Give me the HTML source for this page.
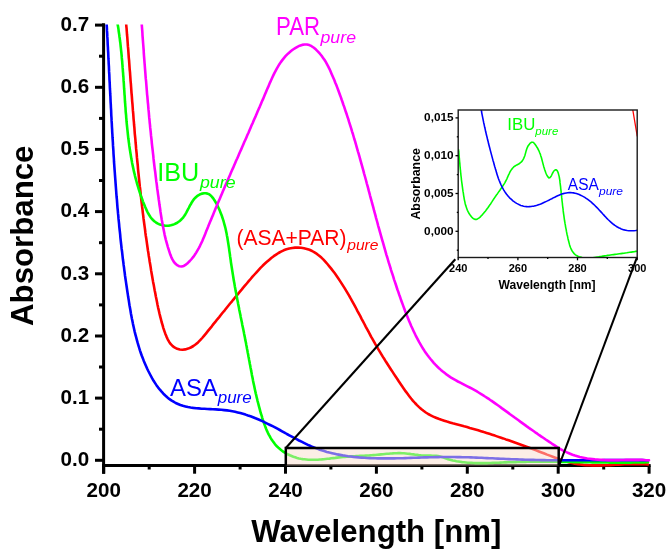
<!DOCTYPE html>
<html><head><meta charset="utf-8"><title>UV spectra</title>
<style>html,body{margin:0;padding:0;background:#fff;width:672px;height:556px;overflow:hidden}svg{display:block;will-change:transform}</style>
</head><body>
<svg width="672" height="556" viewBox="0 0 672 556">
<defs><clipPath id="pc"><rect x="104" y="24.5" width="548" height="445"/></clipPath>
<clipPath id="ic"><rect x="458.2" y="110" width="179" height="147.5"/></clipPath></defs>
<rect width="672" height="556" fill="#fff"/>
<line x1="103.6" y1="23.3" x2="103.6" y2="473.7" stroke="#000" stroke-width="3"/>
<line x1="102.1" y1="465.5" x2="650.6" y2="465.5" stroke="#000" stroke-width="3"/>
<line x1="95" y1="460.3" x2="103.6" y2="460.3" stroke="#000" stroke-width="3"/>
<line x1="95" y1="398.1" x2="103.6" y2="398.1" stroke="#000" stroke-width="3"/>
<line x1="95" y1="336.0" x2="103.6" y2="336.0" stroke="#000" stroke-width="3"/>
<line x1="95" y1="273.8" x2="103.6" y2="273.8" stroke="#000" stroke-width="3"/>
<line x1="95" y1="211.6" x2="103.6" y2="211.6" stroke="#000" stroke-width="3"/>
<line x1="95" y1="149.4" x2="103.6" y2="149.4" stroke="#000" stroke-width="3"/>
<line x1="95" y1="87.3" x2="103.6" y2="87.3" stroke="#000" stroke-width="3"/>
<line x1="95" y1="25.1" x2="103.6" y2="25.1" stroke="#000" stroke-width="3"/>
<line x1="99" y1="429.2" x2="103.6" y2="429.2" stroke="#000" stroke-width="3"/>
<line x1="99" y1="367.0" x2="103.6" y2="367.0" stroke="#000" stroke-width="3"/>
<line x1="99" y1="304.9" x2="103.6" y2="304.9" stroke="#000" stroke-width="3"/>
<line x1="99" y1="242.7" x2="103.6" y2="242.7" stroke="#000" stroke-width="3"/>
<line x1="99" y1="180.5" x2="103.6" y2="180.5" stroke="#000" stroke-width="3"/>
<line x1="99" y1="118.4" x2="103.6" y2="118.4" stroke="#000" stroke-width="3"/>
<line x1="99" y1="56.2" x2="103.6" y2="56.2" stroke="#000" stroke-width="3"/>
<line x1="103.7" y1="465.5" x2="103.7" y2="473.7" stroke="#000" stroke-width="3"/>
<line x1="194.6" y1="465.5" x2="194.6" y2="473.7" stroke="#000" stroke-width="3"/>
<line x1="285.5" y1="465.5" x2="285.5" y2="473.7" stroke="#000" stroke-width="3"/>
<line x1="376.4" y1="465.5" x2="376.4" y2="473.7" stroke="#000" stroke-width="3"/>
<line x1="467.3" y1="465.5" x2="467.3" y2="473.7" stroke="#000" stroke-width="3"/>
<line x1="558.2" y1="465.5" x2="558.2" y2="473.7" stroke="#000" stroke-width="3"/>
<line x1="649.1" y1="465.5" x2="649.1" y2="473.7" stroke="#000" stroke-width="3"/>
<line x1="149.2" y1="465.5" x2="149.2" y2="469.5" stroke="#000" stroke-width="3"/>
<line x1="240.1" y1="465.5" x2="240.1" y2="469.5" stroke="#000" stroke-width="3"/>
<line x1="330.9" y1="465.5" x2="330.9" y2="469.5" stroke="#000" stroke-width="3"/>
<line x1="421.9" y1="465.5" x2="421.9" y2="469.5" stroke="#000" stroke-width="3"/>
<line x1="512.8" y1="465.5" x2="512.8" y2="469.5" stroke="#000" stroke-width="3"/>
<line x1="603.7" y1="465.5" x2="603.7" y2="469.5" stroke="#000" stroke-width="3"/>
<g clip-path="url(#pc)">
<path d="M125.8,20.0 L126.1,22.9 L126.3,25.8 L126.6,28.7 L126.8,31.6 L127.0,34.5 L127.3,37.4 L127.5,40.3 L127.7,43.2 L127.9,46.2 L128.2,49.1 L128.4,52.0 L128.6,54.9 L128.8,57.8 L129.1,60.7 L129.3,63.6 L129.5,66.6 L129.7,69.5 L130.0,72.4 L130.2,75.3 L130.4,78.2 L130.6,81.1 L130.9,84.1 L131.1,87.0 L131.3,89.9 L131.5,92.8 L131.8,95.8 L132.0,98.7 L132.2,101.6 L132.5,104.5 L132.7,107.4 L132.9,110.4 L133.2,113.3 L133.4,116.2 L133.6,119.1 L133.9,122.1 L134.1,125.0 L134.4,127.9 L134.6,130.8 L134.8,133.8 L135.1,136.7 L135.4,139.6 L135.6,142.5 L135.9,145.5 L136.1,148.4 L136.4,151.3 L136.7,154.2 L136.9,157.2 L137.2,160.1 L137.5,163.0 L137.8,165.9 L138.0,168.8 L138.3,171.8 L138.6,174.7 L138.9,177.6 L139.2,180.5 L139.5,183.4 L139.8,186.4 L140.2,189.3 L140.5,192.2 L140.8,195.1 L141.1,198.0 L141.4,200.9 L141.8,203.8 L142.1,206.7 L142.5,209.7 L142.8,212.6 L143.2,215.5 L143.5,218.4 L143.9,221.3 L144.3,224.2 L144.7,227.1 L145.1,230.0 L145.4,232.9 L145.8,235.8 L146.3,238.7 L146.7,241.6 L147.1,244.5 L147.5,247.3 L147.9,250.2 L148.4,253.1 L148.8,256.0 L149.3,258.9 L149.7,261.8 L150.2,264.6 L150.7,267.5 L151.1,270.4 L151.6,273.3 L152.1,276.1 L152.6,279.0 L153.1,281.9 L153.7,284.7 L154.2,287.6 L154.7,290.5 L155.3,293.3 L155.8,296.2 L156.4,299.0 L157.0,301.9 L157.5,304.7 L158.1,307.6 L158.8,310.4 L159.4,313.3 L160.1,316.2 L160.9,319.1 L161.6,322.0 L162.5,324.9 L163.3,327.8 L164.3,330.8 L165.3,333.7 L166.5,336.6 L167.7,339.3 L169.2,341.9 L170.8,344.2 L172.7,346.1 L174.9,347.7 L177.2,348.8 L179.8,349.5 L182.5,349.7 L185.3,349.4 L188.1,348.6 L190.8,347.5 L193.4,346.0 L195.8,344.3 L198.0,342.4 L200.2,340.2 L202.2,338.0 L204.2,335.6 L206.1,333.3 L208.0,330.9 L209.9,328.6 L211.8,326.3 L213.6,323.9 L215.5,321.6 L217.3,319.3 L219.2,317.1 L221.0,314.8 L222.8,312.5 L224.7,310.3 L226.5,308.0 L228.3,305.8 L230.1,303.5 L232.0,301.3 L233.8,299.1 L235.6,296.8 L237.5,294.6 L239.3,292.4 L241.2,290.2 L243.0,287.9 L244.9,285.7 L246.8,283.5 L248.7,281.2 L250.6,279.0 L252.5,276.7 L254.5,274.5 L256.5,272.3 L258.5,270.1 L260.5,267.9 L262.6,265.8 L264.7,263.8 L266.9,261.8 L269.1,259.9 L271.3,258.0 L273.7,256.2 L276.1,254.6 L278.5,253.0 L281.0,251.6 L283.7,250.3 L286.4,249.3 L289.3,248.5 L292.2,248.0 L295.1,247.6 L298.1,247.6 L301.1,247.8 L304.0,248.2 L306.8,248.9 L309.5,249.8 L312.1,251.0 L314.5,252.4 L316.9,253.9 L319.2,255.7 L321.4,257.6 L323.5,259.6 L325.5,261.8 L327.4,264.0 L329.3,266.3 L331.2,268.6 L333.0,271.0 L334.8,273.3 L336.5,275.7 L338.2,278.2 L339.8,280.6 L341.4,283.1 L343.0,285.6 L344.6,288.1 L346.1,290.6 L347.6,293.1 L349.1,295.6 L350.5,298.2 L352.0,300.8 L353.4,303.3 L354.8,305.9 L356.2,308.5 L357.5,311.1 L358.9,313.7 L360.3,316.2 L361.6,318.8 L363.0,321.4 L364.4,324.0 L365.7,326.6 L367.1,329.2 L368.5,331.7 L369.9,334.3 L371.2,336.9 L372.7,339.4 L374.1,341.9 L375.5,344.4 L377.0,346.9 L378.4,349.4 L379.9,351.9 L381.4,354.4 L382.9,356.9 L384.5,359.3 L386.0,361.8 L387.6,364.3 L389.2,366.7 L390.8,369.2 L392.4,371.6 L394.0,374.1 L395.6,376.5 L397.3,379.0 L398.9,381.5 L400.6,384.0 L402.3,386.4 L404.0,388.9 L405.7,391.4 L407.5,393.8 L409.3,396.2 L411.1,398.5 L413.0,400.8 L415.0,403.0 L417.0,405.1 L419.1,407.1 L421.2,409.0 L423.5,410.8 L425.8,412.5 L428.2,414.0 L430.7,415.3 L433.3,416.6 L435.9,417.7 L438.6,418.8 L441.4,419.8 L444.2,420.7 L447.0,421.6 L449.8,422.4 L452.7,423.2 L455.5,423.9 L458.4,424.7 L461.3,425.5 L464.1,426.3 L467.0,427.0 L469.8,427.9 L472.6,428.7 L475.4,429.5 L478.2,430.3 L481.0,431.2 L483.8,432.1 L486.6,432.9 L489.4,433.8 L492.1,434.7 L494.9,435.6 L497.7,436.6 L500.4,437.5 L503.2,438.4 L505.9,439.4 L508.7,440.3 L511.4,441.3 L514.1,442.3 L516.9,443.3 L519.6,444.3 L522.4,445.3 L525.1,446.3 L527.9,447.3 L530.6,448.3 L533.4,449.4 L536.1,450.4 L538.9,451.5 L541.6,452.5 L544.4,453.5 L547.1,454.6 L549.9,455.6 L552.7,456.7 L555.4,457.7 L558.2,458.8 L560.9,459.8 L563.7,460.7 L566.4,461.6 L569.2,462.4 L572.0,463.1 L574.8,463.7 L577.7,464.1 L580.6,464.5 L583.4,464.9 L586.3,465.1 L589.2,465.3 L592.1,465.4 L595.1,465.4 L598.0,465.4 L601.0,465.4 L603.9,465.3 L606.9,465.2 L609.8,465.1 L612.8,464.9 L615.7,464.8 L618.7,464.6 L621.7,464.5 L624.6,464.3 L627.6,464.2 L630.5,464.1 L633.5,464.1 L636.4,464.0 L639.3,464.1 L642.2,464.1 L645.1,464.3 L648.0,464.5" fill="none" stroke="#ff0000" stroke-width="2.60" stroke-linejoin="round" stroke-linecap="round" />
<path d="M116.9,20.0 L117.2,21.9 L117.5,23.8 L117.9,25.7 L118.2,27.5 L118.5,29.4 L118.7,31.3 L119.0,33.2 L119.3,35.1 L119.5,37.0 L119.8,38.9 L120.0,40.8 L120.3,42.7 L120.5,44.6 L120.7,46.5 L120.9,48.4 L121.1,50.3 L121.3,52.2 L121.5,54.1 L121.7,56.0 L121.8,57.9 L122.0,59.8 L122.2,61.7 L122.3,63.6 L122.5,65.5 L122.6,67.4 L122.8,69.4 L122.9,71.3 L123.1,73.2 L123.2,75.1 L123.4,77.0 L123.5,78.9 L123.6,80.9 L123.8,82.8 L123.9,84.7 L124.0,86.6 L124.1,88.5 L124.3,90.5 L124.4,92.4 L124.5,94.3 L124.7,96.2 L124.8,98.2 L124.9,100.1 L125.0,102.0 L125.2,103.9 L125.3,105.8 L125.5,107.7 L125.6,109.7 L125.7,111.6 L125.9,113.5 L126.1,115.4 L126.2,117.3 L126.4,119.2 L126.5,121.2 L126.7,123.1 L126.9,125.0 L127.1,126.9 L127.3,128.8 L127.5,130.7 L127.7,132.6 L127.9,134.5 L128.1,136.4 L128.3,138.3 L128.6,140.2 L128.8,142.1 L129.1,144.0 L129.3,145.9 L129.6,147.8 L129.9,149.7 L130.2,151.6 L130.5,153.5 L130.8,155.4 L131.1,157.3 L131.4,159.1 L131.8,161.0 L132.1,162.9 L132.5,164.8 L132.9,166.6 L133.3,168.5 L133.7,170.4 L134.1,172.2 L134.6,174.1 L135.0,176.0 L135.5,177.8 L136.0,179.7 L136.5,181.5 L137.0,183.4 L137.5,185.2 L138.1,187.0 L138.6,188.9 L139.2,190.7 L139.8,192.5 L140.4,194.4 L141.0,196.2 L141.7,198.0 L142.4,199.8 L143.0,201.6 L143.7,203.4 L144.5,205.2 L145.2,207.0 L146.0,208.8 L146.8,210.6 L147.6,212.3 L148.6,214.0 L149.5,215.6 L150.6,217.2 L151.7,218.6 L153.0,220.0 L154.3,221.2 L155.8,222.3 L157.4,223.3 L159.1,224.2 L160.9,224.8 L162.9,225.3 L164.9,225.6 L166.9,225.7 L168.9,225.6 L170.8,225.3 L172.7,224.8 L174.5,224.1 L176.2,223.3 L177.8,222.3 L179.4,221.2 L180.8,220.0 L182.1,218.7 L183.3,217.3 L184.4,215.8 L185.4,214.2 L186.3,212.6 L187.2,210.9 L188.1,209.2 L189.0,207.5 L189.9,205.7 L190.9,204.0 L191.9,202.2 L193.0,200.5 L194.2,198.9 L195.6,197.5 L197.0,196.2 L198.7,195.1 L200.4,194.2 L202.2,193.6 L204.0,193.3 L205.8,193.3 L207.5,193.6 L209.1,194.2 L210.5,195.3 L211.8,196.6 L213.0,198.1 L214.1,199.7 L215.1,201.3 L216.1,203.0 L217.0,204.7 L217.9,206.5 L218.7,208.2 L219.5,209.9 L220.2,211.7 L220.9,213.4 L221.6,215.2 L222.2,217.0 L222.8,218.8 L223.4,220.6 L223.9,222.5 L224.4,224.3 L224.9,226.1 L225.4,228.0 L225.8,229.8 L226.2,231.7 L226.6,233.6 L226.9,235.4 L227.3,237.3 L227.6,239.2 L227.9,241.1 L228.2,243.0 L228.5,244.9 L228.8,246.8 L229.1,248.7 L229.3,250.6 L229.6,252.5 L229.9,254.4 L230.1,256.4 L230.4,258.3 L230.7,260.2 L230.9,262.1 L231.2,264.0 L231.5,265.9 L231.8,267.8 L232.1,269.7 L232.4,271.6 L232.7,273.5 L233.0,275.4 L233.3,277.3 L233.6,279.2 L233.9,281.1 L234.3,283.0 L234.6,284.9 L234.9,286.8 L235.3,288.7 L235.6,290.6 L236.0,292.4 L236.3,294.3 L236.7,296.2 L237.0,298.1 L237.4,300.0 L237.8,301.9 L238.1,303.8 L238.5,305.6 L238.9,307.5 L239.2,309.4 L239.6,311.3 L240.0,313.2 L240.4,315.0 L240.7,316.9 L241.1,318.8 L241.5,320.7 L241.9,322.5 L242.2,324.4 L242.6,326.3 L243.0,328.1 L243.4,330.0 L243.8,331.9 L244.1,333.8 L244.5,335.6 L244.9,337.5 L245.2,339.4 L245.6,341.2 L246.0,343.1 L246.3,345.0 L246.7,346.8 L247.0,348.7 L247.4,350.6 L247.7,352.5 L248.1,354.3 L248.4,356.2 L248.8,358.1 L249.1,359.9 L249.5,361.8 L249.8,363.7 L250.2,365.5 L250.5,367.4 L250.9,369.3 L251.2,371.1 L251.6,373.0 L251.9,374.9 L252.3,376.8 L252.7,378.6 L253.0,380.5 L253.4,382.4 L253.8,384.2 L254.2,386.1 L254.6,388.0 L255.0,389.9 L255.4,391.8 L255.8,393.6 L256.3,395.5 L256.7,397.4 L257.2,399.3 L257.6,401.1 L258.1,403.0 L258.6,404.9 L259.1,406.8 L259.6,408.7 L260.1,410.6 L260.6,412.5 L261.2,414.4 L261.8,416.2 L262.3,418.1 L262.9,420.0 L263.6,421.9 L264.2,423.8 L264.9,425.6 L265.6,427.5 L266.3,429.3 L267.1,431.1 L267.9,432.8 L268.8,434.6 L269.7,436.2 L270.6,437.9 L271.6,439.5 L272.7,441.1 L273.8,442.6 L274.9,444.1 L276.1,445.5 L277.4,446.8 L278.8,448.1 L280.2,449.3 L281.7,450.5 L283.2,451.6 L284.8,452.6 L286.5,453.6 L288.2,454.5 L289.9,455.3 L291.6,456.0 L293.4,456.7 L295.2,457.3 L297.1,457.9 L298.9,458.4 L300.8,458.8 L302.7,459.1 L304.5,459.3 L306.4,459.5 L308.3,459.7 L310.2,459.8 L312.1,459.8 L314.0,459.8 L316.0,459.7 L317.9,459.7 L319.8,459.5 L321.7,459.4 L323.7,459.2 L325.6,459.0 L327.5,458.8 L329.5,458.6 L331.4,458.3 L333.3,458.1 L335.3,457.9 L337.2,457.6 L339.1,457.4 L341.0,457.2 L343.0,457.0 L344.9,456.9 L346.8,456.7 L348.7,456.6 L350.6,456.4 L352.5,456.3 L354.4,456.2 L356.3,456.1 L358.2,456.0 L360.1,455.9 L362.0,455.8 L363.9,455.7 L365.8,455.6 L367.7,455.5 L369.6,455.4 L371.5,455.2 L373.4,455.1 L375.3,455.0 L377.2,454.8 L379.1,454.6 L381.0,454.4 L383.0,454.2 L384.9,454.0 L386.8,453.8 L388.7,453.7 L390.6,453.5 L392.5,453.4 L394.4,453.2 L396.4,453.2 L398.3,453.1 L400.2,453.1 L402.1,453.2 L404.0,453.3 L405.9,453.5 L407.8,453.7 L409.7,453.9 L411.6,454.2 L413.5,454.4 L415.4,454.7 L417.3,454.9 L419.2,455.2 L421.1,455.4 L423.0,455.5 L424.9,455.6 L426.8,455.6 L428.7,455.6 L430.6,455.6 L432.5,455.7 L434.4,455.7 L436.3,455.9 L438.1,456.1 L440.0,456.5 L441.8,457.0 L443.6,457.6 L445.4,458.2 L447.2,458.9 L449.0,459.4 L450.9,459.9 L452.7,460.4 L454.6,460.8 L456.4,461.2 L458.3,461.5 L460.2,461.8 L462.1,462.1 L464.0,462.3 L465.9,462.5 L467.8,462.7 L469.7,462.8 L471.6,462.9 L473.5,463.0 L475.4,463.1 L477.3,463.1 L479.2,463.1 L481.1,463.1 L483.0,463.1 L485.0,463.1 L486.9,463.1 L488.8,463.0 L490.7,463.0 L492.7,462.9 L494.6,462.8 L496.5,462.8 L498.4,462.7 L500.4,462.6 L502.3,462.5 L504.2,462.4 L506.2,462.4 L508.1,462.3 L510.0,462.2 L511.9,462.2 L513.9,462.1 L515.8,462.1 L517.7,462.0 L519.6,462.0 L521.5,461.9 L523.5,461.9 L525.4,461.9 L527.3,461.8 L529.2,461.8 L531.1,461.8 L533.1,461.8 L535.0,461.8 L536.9,461.8 L538.8,461.8 L540.7,461.8 L542.6,461.8 L544.6,461.8 L546.5,461.8 L548.4,461.8 L550.3,461.8 L552.2,461.8 L554.1,461.8 L556.0,461.8 L558.0,461.9 L559.9,461.9 L561.8,461.9 L563.7,461.9 L565.6,462.0 L567.5,462.0 L569.4,462.0 L571.3,462.0 L573.3,462.1 L575.2,462.1 L577.1,462.1 L579.0,462.2 L580.9,462.2 L582.8,462.2 L584.7,462.2 L586.6,462.3 L588.6,462.3 L590.5,462.3 L592.4,462.4 L594.3,462.4 L596.2,462.4 L598.1,462.4 L600.0,462.5 L601.9,462.5 L603.9,462.5 L605.8,462.5 L607.7,462.5 L609.6,462.6 L611.5,462.6 L613.4,462.6 L615.4,462.6 L617.3,462.6 L619.2,462.6 L621.1,462.6 L623.0,462.6 L624.9,462.6 L626.9,462.6 L628.8,462.6 L630.7,462.6 L632.6,462.5 L634.5,462.5 L636.5,462.5 L638.4,462.5 L640.3,462.4 L642.2,462.4 L644.2,462.4 L646.1,462.3 L648.0,462.3" fill="none" stroke="#00ff00" stroke-width="2.60" stroke-linejoin="round" stroke-linecap="round" />
<path d="M106.4,20.0 L106.6,22.7 L106.7,25.4 L106.9,28.2 L107.0,30.9 L107.2,33.6 L107.3,36.4 L107.5,39.1 L107.6,41.8 L107.7,44.6 L107.9,47.3 L108.0,50.0 L108.2,52.8 L108.3,55.5 L108.4,58.2 L108.6,61.0 L108.7,63.7 L108.9,66.4 L109.0,69.1 L109.1,71.9 L109.3,74.6 L109.4,77.3 L109.5,80.0 L109.7,82.8 L109.8,85.5 L109.9,88.2 L110.1,91.0 L110.2,93.7 L110.4,96.4 L110.5,99.1 L110.6,101.8 L110.8,104.6 L110.9,107.3 L111.1,110.0 L111.2,112.7 L111.3,115.5 L111.5,118.2 L111.6,120.9 L111.8,123.6 L111.9,126.3 L112.1,129.1 L112.2,131.8 L112.4,134.5 L112.5,137.2 L112.7,139.9 L112.9,142.7 L113.0,145.4 L113.2,148.1 L113.4,150.8 L113.5,153.5 L113.7,156.3 L113.9,159.0 L114.0,161.7 L114.2,164.4 L114.4,167.1 L114.6,169.8 L114.8,172.5 L115.0,175.3 L115.2,178.0 L115.4,180.7 L115.6,183.4 L115.8,186.1 L116.0,188.8 L116.2,191.5 L116.4,194.3 L116.6,197.0 L116.9,199.7 L117.1,202.4 L117.3,205.1 L117.5,207.8 L117.8,210.5 L118.0,213.2 L118.3,215.9 L118.5,218.7 L118.8,221.4 L119.1,224.1 L119.3,226.8 L119.6,229.5 L119.9,232.2 L120.2,234.9 L120.4,237.6 L120.7,240.3 L121.0,243.0 L121.3,245.7 L121.6,248.5 L122.0,251.2 L122.3,253.9 L122.6,256.6 L122.9,259.3 L123.3,262.0 L123.6,264.7 L124.0,267.4 L124.3,270.1 L124.7,272.8 L125.0,275.5 L125.4,278.2 L125.8,280.9 L126.2,283.6 L126.6,286.3 L127.0,289.0 L127.4,291.7 L127.8,294.4 L128.2,297.1 L128.7,299.9 L129.1,302.6 L129.5,305.3 L130.0,308.0 L130.5,310.7 L130.9,313.4 L131.4,316.0 L131.9,318.7 L132.5,321.4 L133.0,324.1 L133.6,326.8 L134.2,329.5 L134.8,332.1 L135.5,334.8 L136.2,337.4 L136.9,340.1 L137.6,342.7 L138.4,345.3 L139.2,348.0 L140.0,350.6 L140.9,353.2 L141.8,355.8 L142.8,358.3 L143.8,360.9 L144.9,363.4 L146.0,366.0 L147.1,368.5 L148.3,371.0 L149.6,373.5 L150.9,376.0 L152.2,378.4 L153.6,380.8 L155.1,383.1 L156.6,385.4 L158.2,387.6 L159.9,389.7 L161.6,391.7 L163.4,393.7 L165.3,395.5 L167.2,397.2 L169.2,398.9 L171.3,400.4 L173.5,401.7 L175.7,403.0 L178.0,404.0 L180.4,405.0 L182.9,405.8 L185.4,406.4 L188.0,407.0 L190.6,407.5 L193.3,407.9 L196.1,408.2 L198.8,408.4 L201.6,408.7 L204.4,408.8 L207.3,409.0 L210.1,409.1 L212.9,409.3 L215.8,409.4 L218.6,409.6 L221.4,409.8 L224.2,410.1 L227.0,410.4 L229.7,410.8 L232.4,411.3 L235.1,411.8 L237.7,412.4 L240.3,413.1 L242.9,413.8 L245.5,414.6 L248.0,415.5 L250.5,416.3 L253.0,417.3 L255.5,418.3 L258.0,419.3 L260.4,420.3 L262.9,421.4 L265.3,422.6 L267.7,423.8 L270.1,425.0 L272.6,426.2 L275.0,427.4 L277.4,428.7 L279.8,430.0 L282.1,431.3 L284.5,432.6 L286.9,434.0 L289.3,435.3 L291.8,436.6 L294.2,437.9 L296.6,439.2 L299.0,440.5 L301.5,441.7 L303.9,442.9 L306.4,444.1 L308.9,445.3 L311.4,446.4 L313.9,447.4 L316.4,448.4 L319.0,449.4 L321.6,450.3 L324.2,451.1 L326.8,451.9 L329.4,452.6 L332.1,453.2 L334.7,453.8 L337.4,454.4 L340.0,454.9 L342.7,455.4 L345.4,455.8 L348.1,456.2 L350.8,456.5 L353.4,456.9 L356.1,457.1 L358.8,457.4 L361.5,457.6 L364.3,457.8 L367.0,458.0 L369.7,458.1 L372.4,458.2 L375.1,458.3 L377.9,458.4 L380.6,458.4 L383.3,458.4 L386.0,458.4 L388.8,458.4 L391.5,458.4 L394.2,458.4 L397.0,458.3 L399.7,458.2 L402.5,458.2 L405.2,458.1 L408.0,458.0 L410.7,457.9 L413.4,457.8 L416.2,457.7 L418.9,457.6 L421.7,457.5 L424.4,457.4 L427.2,457.4 L429.9,457.3 L432.7,457.2 L435.4,457.1 L438.1,457.1 L440.9,457.0 L443.6,457.0 L446.3,457.0 L449.1,457.0 L451.8,457.0 L454.5,457.0 L457.2,457.1 L460.0,457.1 L462.7,457.2 L465.4,457.3 L468.1,457.3 L470.8,457.4 L473.6,457.5 L476.3,457.6 L479.0,457.7 L481.7,457.8 L484.4,458.0 L487.1,458.1 L489.9,458.2 L492.6,458.3 L495.3,458.5 L498.0,458.6 L500.7,458.7 L503.4,458.8 L506.1,459.0 L508.9,459.1 L511.6,459.2 L514.3,459.3 L517.0,459.4 L519.7,459.5 L522.5,459.6 L525.2,459.7 L527.9,459.8 L530.6,459.9 L533.4,459.9 L536.1,460.0 L538.8,460.0 L541.5,460.1 L544.3,460.1 L547.0,460.2 L549.7,460.2 L552.5,460.2 L555.2,460.2 L557.9,460.3 L560.7,460.3 L563.4,460.3 L566.2,460.3 L568.9,460.3 L571.6,460.3 L574.4,460.3 L577.1,460.3 L579.8,460.3 L582.6,460.3 L585.3,460.2 L588.0,460.2 L590.8,460.2 L593.5,460.2 L596.2,460.2 L599.0,460.2 L601.7,460.2 L604.4,460.1 L607.2,460.1 L609.9,460.1 L612.6,460.1 L615.4,460.1 L618.1,460.1 L620.8,460.1 L623.5,460.1 L626.3,460.1 L629.0,460.1 L631.7,460.1 L634.4,460.1 L637.1,460.1 L639.9,460.1 L642.6,460.1 L645.3,460.2 L648.0,460.2" fill="none" stroke="#0000ff" stroke-width="2.60" stroke-linejoin="round" stroke-linecap="round" />
<path d="M141.5,20.0 L141.7,22.6 L141.8,25.1 L142.0,27.7 L142.2,30.2 L142.4,32.8 L142.5,35.3 L142.7,37.9 L142.9,40.4 L143.1,43.0 L143.3,45.5 L143.5,48.1 L143.7,50.7 L143.8,53.2 L144.0,55.8 L144.2,58.4 L144.4,60.9 L144.6,63.5 L144.8,66.0 L145.0,68.6 L145.2,71.2 L145.4,73.7 L145.6,76.3 L145.8,78.9 L146.1,81.4 L146.3,84.0 L146.5,86.6 L146.7,89.1 L146.9,91.7 L147.1,94.3 L147.4,96.8 L147.6,99.4 L147.8,102.0 L148.1,104.5 L148.3,107.1 L148.5,109.7 L148.8,112.3 L149.0,114.8 L149.2,117.4 L149.5,120.0 L149.7,122.5 L150.0,125.1 L150.2,127.7 L150.5,130.2 L150.8,132.8 L151.0,135.4 L151.3,137.9 L151.6,140.5 L151.8,143.0 L152.1,145.6 L152.4,148.2 L152.7,150.7 L153.0,153.3 L153.3,155.8 L153.5,158.4 L153.8,161.0 L154.1,163.5 L154.4,166.1 L154.7,168.6 L155.1,171.2 L155.4,173.7 L155.7,176.3 L156.0,178.8 L156.3,181.4 L156.7,183.9 L157.0,186.5 L157.3,189.0 L157.7,191.6 L158.0,194.1 L158.4,196.6 L158.7,199.2 L159.1,201.7 L159.4,204.3 L159.8,206.8 L160.2,209.3 L160.5,211.9 L160.9,214.4 L161.3,216.9 L161.7,219.4 L162.2,222.0 L162.6,224.5 L163.1,227.0 L163.6,229.5 L164.1,232.0 L164.6,234.6 L165.2,237.1 L165.8,239.6 L166.5,242.1 L167.2,244.6 L167.9,247.1 L168.7,249.6 L169.5,252.1 L170.3,254.6 L171.3,257.1 L172.4,259.4 L173.7,261.6 L175.3,263.6 L177.2,265.2 L179.4,266.3 L181.6,266.5 L183.8,265.9 L185.9,264.6 L187.9,262.9 L189.8,261.0 L191.6,259.0 L193.3,256.9 L194.8,254.8 L196.2,252.6 L197.5,250.4 L198.8,248.1 L200.0,245.8 L201.1,243.5 L202.2,241.2 L203.2,238.8 L204.2,236.4 L205.2,234.0 L206.1,231.6 L207.1,229.2 L208.1,226.8 L209.0,224.4 L210.0,222.1 L211.0,219.7 L212.0,217.3 L213.0,214.9 L213.9,212.6 L214.9,210.2 L215.9,207.8 L216.9,205.5 L217.9,203.1 L218.9,200.7 L219.9,198.4 L220.9,196.0 L221.9,193.7 L222.9,191.3 L223.9,189.0 L224.9,186.6 L225.9,184.3 L227.0,181.9 L228.0,179.6 L229.0,177.2 L230.0,174.9 L231.0,172.6 L232.0,170.2 L233.1,167.9 L234.1,165.5 L235.1,163.2 L236.1,160.8 L237.2,158.5 L238.2,156.2 L239.2,153.8 L240.2,151.5 L241.3,149.1 L242.3,146.8 L243.3,144.4 L244.3,142.1 L245.4,139.7 L246.4,137.4 L247.4,135.0 L248.5,132.7 L249.5,130.3 L250.5,127.9 L251.5,125.6 L252.6,123.2 L253.6,120.8 L254.6,118.5 L255.7,116.1 L256.7,113.7 L257.7,111.3 L258.7,109.0 L259.8,106.6 L260.8,104.2 L261.8,101.8 L262.9,99.4 L263.9,97.0 L264.9,94.6 L265.9,92.2 L266.9,89.8 L268.0,87.4 L269.0,85.0 L270.0,82.6 L271.1,80.2 L272.2,77.8 L273.3,75.4 L274.4,73.1 L275.6,70.8 L276.8,68.6 L278.1,66.4 L279.4,64.2 L280.8,62.1 L282.3,60.1 L283.9,58.1 L285.5,56.2 L287.2,54.4 L289.1,52.7 L291.0,51.1 L293.0,49.5 L295.2,48.1 L297.4,46.8 L299.7,45.7 L302.1,44.9 L304.5,44.5 L306.9,44.5 L309.3,45.1 L311.6,46.2 L313.9,47.8 L316.0,49.6 L318.0,51.6 L319.9,53.7 L321.6,55.8 L323.1,57.9 L324.6,60.0 L325.9,62.2 L327.1,64.4 L328.3,66.6 L329.4,68.8 L330.4,71.1 L331.4,73.4 L332.4,75.7 L333.4,78.0 L334.4,80.3 L335.3,82.7 L336.3,85.0 L337.2,87.4 L338.1,89.8 L339.0,92.2 L339.9,94.7 L340.8,97.1 L341.6,99.5 L342.5,102.0 L343.3,104.5 L344.2,106.9 L345.0,109.4 L345.8,111.8 L346.7,114.3 L347.5,116.8 L348.3,119.2 L349.0,121.7 L349.8,124.2 L350.6,126.6 L351.4,129.1 L352.1,131.6 L352.9,134.0 L353.6,136.5 L354.3,139.0 L355.1,141.4 L355.8,143.9 L356.5,146.4 L357.2,148.9 L357.9,151.3 L358.7,153.8 L359.4,156.3 L360.0,158.7 L360.7,161.2 L361.4,163.7 L362.1,166.2 L362.8,168.6 L363.5,171.1 L364.1,173.6 L364.8,176.0 L365.5,178.5 L366.2,181.0 L366.8,183.5 L367.5,185.9 L368.2,188.4 L368.8,190.9 L369.5,193.4 L370.1,195.8 L370.8,198.3 L371.5,200.8 L372.1,203.2 L372.8,205.7 L373.5,208.2 L374.1,210.7 L374.8,213.1 L375.5,215.6 L376.1,218.1 L376.8,220.5 L377.5,223.0 L378.1,225.5 L378.8,227.9 L379.5,230.4 L380.2,232.9 L380.9,235.3 L381.6,237.8 L382.3,240.3 L383.0,242.7 L383.7,245.2 L384.4,247.7 L385.1,250.1 L385.8,252.6 L386.5,255.1 L387.3,257.5 L388.0,260.0 L388.7,262.4 L389.5,264.9 L390.3,267.4 L391.0,269.8 L391.8,272.3 L392.6,274.7 L393.4,277.2 L394.1,279.6 L395.0,282.1 L395.8,284.5 L396.6,287.0 L397.4,289.5 L398.3,291.9 L399.1,294.4 L400.0,296.8 L400.8,299.2 L401.7,301.7 L402.6,304.1 L403.5,306.6 L404.4,309.0 L405.3,311.5 L406.3,313.9 L407.2,316.3 L408.2,318.8 L409.2,321.2 L410.2,323.6 L411.2,326.0 L412.3,328.3 L413.4,330.7 L414.5,333.0 L415.6,335.3 L416.8,337.6 L418.0,339.9 L419.2,342.2 L420.5,344.4 L421.8,346.6 L423.1,348.7 L424.5,350.9 L425.9,352.9 L427.4,355.0 L428.9,357.0 L430.5,359.0 L432.1,360.9 L433.7,362.8 L435.4,364.7 L437.2,366.5 L439.0,368.2 L440.9,369.9 L442.8,371.5 L444.8,373.1 L446.8,374.7 L448.9,376.1 L451.1,377.6 L453.3,378.9 L455.6,380.2 L457.9,381.5 L460.3,382.7 L462.6,383.9 L465.0,385.1 L467.4,386.3 L469.7,387.5 L472.0,388.7 L474.2,389.9 L476.5,391.2 L478.6,392.5 L480.8,393.8 L482.9,395.1 L485.0,396.5 L487.1,397.8 L489.2,399.2 L491.3,400.7 L493.4,402.1 L495.5,403.6 L497.5,405.0 L499.6,406.5 L501.7,408.1 L503.8,409.6 L505.9,411.1 L508.0,412.6 L510.1,414.2 L512.2,415.7 L514.3,417.3 L516.4,418.8 L518.5,420.3 L520.6,421.9 L522.7,423.4 L524.8,424.9 L526.8,426.4 L528.9,427.9 L531.0,429.3 L533.1,430.8 L535.2,432.3 L537.3,433.7 L539.3,435.2 L541.4,436.6 L543.6,438.0 L545.7,439.5 L547.8,440.9 L550.0,442.3 L552.1,443.8 L554.3,445.2 L556.5,446.6 L558.7,448.0 L560.9,449.3 L563.2,450.6 L565.5,451.7 L567.8,452.8 L570.1,453.8 L572.5,454.8 L574.9,455.6 L577.3,456.3 L579.8,457.0 L582.2,457.5 L584.7,458.0 L587.2,458.5 L589.8,458.8 L592.3,459.1 L594.8,459.4 L597.4,459.6 L600.0,459.8 L602.6,459.9 L605.2,460.0 L607.8,460.1 L610.4,460.1 L613.0,460.1 L615.6,460.1 L618.2,460.1 L620.8,460.0 L623.4,460.0 L626.0,459.9 L628.6,459.9 L631.2,459.9 L633.8,459.9 L636.4,459.9 L638.9,459.9 L641.5,459.9 L644.0,460.0 L646.5,460.2 L649.0,460.3" fill="none" stroke="#ff00ff" stroke-width="2.60" stroke-linejoin="round" stroke-linecap="round" />
</g>
<rect x="285.8" y="448" width="272.9" height="17.5" fill="#f9ddcd" fill-opacity="0.5" stroke="none"/>
<path d="M285.8,465.5 V448 H558.7 V465.5" fill="none" stroke="#000" stroke-width="2.5"/>
<line x1="285.8" y1="448" x2="455.3" y2="259.3" stroke="#000" stroke-width="2.1"/>
<line x1="559.3" y1="465" x2="636.9" y2="257.5" stroke="#000" stroke-width="2.1"/>
<text x="89.2" y="466.0" font-family="'Liberation Sans', sans-serif" font-size="20.6" font-weight="bold" text-anchor="end">0.0</text>
<text x="89.2" y="403.8" font-family="'Liberation Sans', sans-serif" font-size="20.6" font-weight="bold" text-anchor="end">0.1</text>
<text x="89.2" y="341.7" font-family="'Liberation Sans', sans-serif" font-size="20.6" font-weight="bold" text-anchor="end">0.2</text>
<text x="89.2" y="279.5" font-family="'Liberation Sans', sans-serif" font-size="20.6" font-weight="bold" text-anchor="end">0.3</text>
<text x="89.2" y="217.3" font-family="'Liberation Sans', sans-serif" font-size="20.6" font-weight="bold" text-anchor="end">0.4</text>
<text x="89.2" y="155.1" font-family="'Liberation Sans', sans-serif" font-size="20.6" font-weight="bold" text-anchor="end">0.5</text>
<text x="89.2" y="93.0" font-family="'Liberation Sans', sans-serif" font-size="20.6" font-weight="bold" text-anchor="end">0.6</text>
<text x="89.2" y="30.8" font-family="'Liberation Sans', sans-serif" font-size="20.6" font-weight="bold" text-anchor="end">0.7</text>
<text x="103.7" y="496.6" font-family="'Liberation Sans', sans-serif" font-size="20.6" font-weight="bold" text-anchor="middle">200</text>
<text x="194.6" y="496.6" font-family="'Liberation Sans', sans-serif" font-size="20.6" font-weight="bold" text-anchor="middle">220</text>
<text x="285.5" y="496.6" font-family="'Liberation Sans', sans-serif" font-size="20.6" font-weight="bold" text-anchor="middle">240</text>
<text x="376.4" y="496.6" font-family="'Liberation Sans', sans-serif" font-size="20.6" font-weight="bold" text-anchor="middle">260</text>
<text x="467.3" y="496.6" font-family="'Liberation Sans', sans-serif" font-size="20.6" font-weight="bold" text-anchor="middle">280</text>
<text x="558.2" y="496.6" font-family="'Liberation Sans', sans-serif" font-size="20.6" font-weight="bold" text-anchor="middle">300</text>
<text x="649.1" y="496.6" font-family="'Liberation Sans', sans-serif" font-size="20.6" font-weight="bold" text-anchor="middle">320</text>
<text x="251.3" y="541.5" font-family="'Liberation Sans', sans-serif" font-size="30.7" font-weight="bold" textLength="250" lengthAdjust="spacingAndGlyphs">Wavelength [nm]</text>
<text transform="translate(33,326) rotate(-90)" x="0" y="0" font-family="'Liberation Sans', sans-serif" font-size="30.7" font-weight="bold" textLength="180.5" lengthAdjust="spacingAndGlyphs">Absorbance</text>
<text x="276.0" y="35.4" font-family="'Liberation Sans', sans-serif" font-size="25.2" fill="#ff00ff" textLength="44.0" lengthAdjust="spacingAndGlyphs">PAR</text><text x="320.5" y="42.7" font-family="'Liberation Sans', sans-serif" font-size="16.8" font-style="italic" fill="#ff00ff" textLength="35.5" lengthAdjust="spacingAndGlyphs">pure</text>
<text x="157.2" y="180.5" font-family="'Liberation Sans', sans-serif" font-size="25.2" fill="#00ff00" textLength="42.0" lengthAdjust="spacingAndGlyphs">IBU</text><text x="200.0" y="188.0" font-family="'Liberation Sans', sans-serif" font-size="16.8" font-style="italic" fill="#00ff00" textLength="35.5" lengthAdjust="spacingAndGlyphs">pure</text>
<text x="236.5" y="244.5" font-family="'Liberation Sans', sans-serif" font-size="22.5" fill="#ff0000" textLength="110.0" lengthAdjust="spacingAndGlyphs">(ASA+PAR)</text><text x="347.2" y="249.7" font-family="'Liberation Sans', sans-serif" font-size="15.0" font-style="italic" fill="#ff0000" textLength="31.3" lengthAdjust="spacingAndGlyphs">pure</text>
<text x="170.0" y="396.3" font-family="'Liberation Sans', sans-serif" font-size="24.6" fill="#0000ff" textLength="47.8" lengthAdjust="spacingAndGlyphs">ASA</text><text x="217.7" y="403.0" font-family="'Liberation Sans', sans-serif" font-size="16.8" font-style="italic" fill="#0000ff" textLength="34.0" lengthAdjust="spacingAndGlyphs">pure</text>
<rect x="458.2" y="110" width="179" height="147.5" fill="#fff"/>
<g clip-path="url(#ic)">
<path d="M632.8,110.0 L637.2,136.0" fill="none" stroke="#ff0000" stroke-width="1.30" stroke-linejoin="round" stroke-linecap="round" />
<path d="M458.6,149.7 L458.7,151.2 L458.9,152.7 L459.0,154.2 L459.1,155.7 L459.2,157.2 L459.4,158.7 L459.5,160.2 L459.6,161.6 L459.8,163.1 L459.9,164.6 L460.0,166.1 L460.2,167.6 L460.3,169.1 L460.5,170.6 L460.6,172.1 L460.8,173.5 L460.9,175.0 L461.1,176.5 L461.3,178.0 L461.4,179.5 L461.6,181.0 L461.8,182.5 L462.0,183.9 L462.2,185.4 L462.4,186.9 L462.6,188.4 L462.8,189.9 L463.0,191.4 L463.3,192.8 L463.5,194.3 L463.7,195.8 L464.0,197.3 L464.2,198.8 L464.5,200.3 L464.8,201.7 L465.1,203.2 L465.5,204.7 L465.9,206.1 L466.4,207.5 L466.9,208.9 L467.4,210.3 L468.1,211.7 L468.8,213.0 L469.6,214.3 L470.5,215.6 L471.4,216.8 L472.5,217.9 L473.7,218.8 L474.9,219.4 L476.2,219.4 L477.5,218.9 L478.8,218.1 L480.1,217.1 L481.3,215.8 L482.5,214.6 L483.6,213.3 L484.6,212.1 L485.6,210.9 L486.4,209.8 L487.3,208.6 L488.1,207.5 L488.9,206.3 L489.7,205.1 L490.6,203.9 L491.4,202.6 L492.2,201.4 L493.0,200.1 L493.9,198.8 L494.7,197.6 L495.6,196.3 L496.4,195.1 L497.3,193.9 L498.2,192.6 L499.0,191.4 L499.9,190.2 L500.7,189.0 L501.6,187.8 L502.4,186.6 L503.2,185.3 L504.0,184.1 L504.8,182.8 L505.5,181.5 L506.2,180.2 L506.9,178.8 L507.5,177.4 L508.1,176.0 L508.7,174.6 L509.4,173.3 L510.0,171.9 L510.8,170.6 L511.6,169.4 L512.5,168.2 L513.5,167.2 L514.7,166.2 L516.0,165.4 L517.3,164.7 L518.7,164.0 L519.9,163.1 L521.1,162.2 L522.1,161.1 L522.9,159.9 L523.6,158.6 L524.2,157.2 L524.8,155.8 L525.2,154.4 L525.6,152.9 L526.0,151.4 L526.4,150.0 L526.9,148.5 L527.5,147.1 L528.2,145.7 L529.2,144.4 L530.3,143.1 L531.6,142.3 L532.8,142.2 L533.9,142.9 L534.8,144.0 L535.7,145.2 L536.5,146.5 L537.3,147.7 L538.0,149.0 L538.7,150.3 L539.3,151.7 L539.8,153.0 L540.4,154.4 L540.8,155.9 L541.3,157.3 L541.7,158.8 L542.1,160.3 L542.5,161.9 L542.9,163.4 L543.3,164.9 L543.7,166.4 L544.2,167.9 L544.6,169.4 L545.1,170.8 L545.6,172.2 L546.1,173.5 L546.7,174.8 L547.4,176.0 L548.1,177.1 L548.9,177.9 L549.8,177.8 L550.7,176.8 L551.6,175.3 L552.4,173.5 L553.3,171.9 L554.2,170.6 L555.3,169.8 L556.3,169.9 L557.2,170.7 L557.9,172.1 L558.4,173.6 L558.8,175.1 L559.2,176.6 L559.4,178.0 L559.7,179.5 L559.9,180.9 L560.0,182.4 L560.2,183.9 L560.4,185.3 L560.6,186.8 L560.7,188.3 L560.9,189.9 L561.1,191.4 L561.2,192.9 L561.4,194.4 L561.6,195.9 L561.7,197.4 L561.9,199.0 L562.0,200.5 L562.2,202.0 L562.4,203.5 L562.5,205.0 L562.7,206.5 L562.9,207.9 L563.1,209.4 L563.2,210.9 L563.4,212.3 L563.6,213.8 L563.8,215.2 L564.0,216.7 L564.2,218.1 L564.4,219.6 L564.6,221.0 L564.9,222.5 L565.1,223.9 L565.4,225.4 L565.6,226.8 L565.9,228.3 L566.2,229.7 L566.4,231.2 L566.7,232.7 L567.0,234.2 L567.4,235.7 L567.7,237.2 L568.0,238.7 L568.4,240.3 L568.8,241.8 L569.2,243.4 L569.6,244.9 L570.1,246.4 L570.6,247.8 L571.2,249.2 L571.9,250.5 L572.7,251.8 L573.5,252.9 L574.4,253.9 L575.5,254.8 L576.6,255.6 L577.9,256.2 L579.2,256.7 L580.6,257.1 L582.1,257.5 L583.6,257.7 L585.1,257.8 L586.6,257.9 L588.2,257.9 L589.7,257.9 L591.2,257.8 L592.8,257.7 L594.3,257.5 L595.8,257.3 L597.2,257.1 L598.7,256.9 L600.2,256.6 L601.7,256.4 L603.1,256.1 L604.6,255.9 L606.1,255.7 L607.6,255.4 L609.1,255.2 L610.5,255.0 L612.0,254.8 L613.5,254.6 L615.0,254.4 L616.5,254.2 L617.9,254.0 L619.4,253.8 L620.9,253.6 L622.4,253.4 L623.9,253.2 L625.3,253.0 L626.8,252.8 L628.3,252.5 L629.8,252.3 L631.3,252.1 L632.8,251.9 L634.2,251.7 L635.7,251.4 L637.2,251.2" fill="none" stroke="#00ff00" stroke-width="1.60" stroke-linejoin="round" stroke-linecap="round" />
<path d="M479.3,97.9 L479.6,99.5 L479.8,101.1 L480.0,102.7 L480.3,104.2 L480.6,105.8 L480.8,107.4 L481.1,108.9 L481.4,110.5 L481.6,112.0 L481.9,113.6 L482.2,115.1 L482.5,116.6 L482.8,118.2 L483.1,119.7 L483.4,121.2 L483.7,122.7 L484.1,124.3 L484.4,125.8 L484.7,127.3 L485.1,128.8 L485.4,130.3 L485.7,131.8 L486.1,133.3 L486.4,134.8 L486.8,136.3 L487.2,137.8 L487.5,139.3 L487.9,140.8 L488.3,142.3 L488.6,143.8 L489.0,145.3 L489.4,146.8 L489.8,148.3 L490.2,149.9 L490.6,151.4 L491.0,152.9 L491.4,154.4 L491.8,155.9 L492.2,157.4 L492.6,158.9 L493.0,160.4 L493.5,161.9 L493.9,163.5 L494.3,165.0 L494.7,166.5 L495.2,168.1 L495.6,169.6 L496.1,171.1 L496.5,172.6 L497.0,174.2 L497.5,175.7 L498.0,177.2 L498.5,178.7 L499.1,180.2 L499.7,181.6 L500.3,183.1 L500.9,184.5 L501.6,186.0 L502.3,187.4 L503.0,188.7 L503.8,190.1 L504.6,191.4 L505.5,192.7 L506.4,194.0 L507.4,195.2 L508.4,196.4 L509.4,197.6 L510.5,198.7 L511.7,199.7 L512.9,200.8 L514.1,201.7 L515.4,202.6 L516.7,203.4 L518.1,204.1 L519.4,204.8 L520.8,205.4 L522.2,205.8 L523.6,206.2 L525.1,206.5 L526.5,206.6 L528.0,206.7 L529.5,206.6 L531.0,206.5 L532.5,206.3 L534.0,206.1 L535.5,205.7 L537.0,205.3 L538.5,204.8 L540.0,204.3 L541.4,203.7 L542.9,203.0 L544.4,202.3 L545.9,201.6 L547.4,200.9 L548.8,200.2 L550.3,199.4 L551.8,198.7 L553.2,197.9 L554.7,197.2 L556.1,196.5 L557.6,195.8 L559.0,195.2 L560.5,194.6 L561.9,194.1 L563.4,193.6 L564.8,193.3 L566.3,193.0 L567.7,192.7 L569.2,192.6 L570.6,192.6 L572.1,192.7 L573.5,192.9 L575.0,193.2 L576.4,193.5 L577.8,194.0 L579.2,194.5 L580.6,195.2 L582.0,195.9 L583.4,196.6 L584.8,197.4 L586.1,198.3 L587.4,199.2 L588.7,200.2 L590.0,201.2 L591.3,202.2 L592.5,203.3 L593.7,204.4 L594.9,205.5 L596.0,206.7 L597.2,207.8 L598.3,209.0 L599.4,210.2 L600.5,211.4 L601.6,212.6 L602.6,213.8 L603.7,214.9 L604.8,216.1 L605.9,217.2 L606.9,218.4 L608.0,219.5 L609.1,220.5 L610.3,221.6 L611.4,222.6 L612.5,223.6 L613.7,224.5 L614.9,225.4 L616.1,226.2 L617.4,227.0 L618.7,227.7 L620.0,228.3 L621.3,228.9 L622.7,229.4 L624.2,229.9 L625.7,230.2 L627.2,230.5 L628.8,230.7 L630.4,230.8 L632.1,230.8 L633.9,230.7 L635.7,230.5 L637.6,230.2" fill="none" stroke="#0000ff" stroke-width="1.60" stroke-linejoin="round" stroke-linecap="round" />
</g>
<rect x="458.2" y="110" width="179" height="147.5" fill="none" stroke="#1a1a1a" stroke-width="1.4"/>
<line x1="455.5" y1="231.3" x2="458.2" y2="231.3" stroke="#000" stroke-width="1.3"/>
<line x1="455.5" y1="193.5" x2="458.2" y2="193.5" stroke="#000" stroke-width="1.3"/>
<line x1="455.5" y1="155.7" x2="458.2" y2="155.7" stroke="#000" stroke-width="1.3"/>
<line x1="455.5" y1="117.9" x2="458.2" y2="117.9" stroke="#000" stroke-width="1.3"/>
<line x1="456.8" y1="250.2" x2="458.2" y2="250.2" stroke="#000" stroke-width="1.3"/>
<line x1="456.8" y1="212.4" x2="458.2" y2="212.4" stroke="#000" stroke-width="1.3"/>
<line x1="456.8" y1="174.6" x2="458.2" y2="174.6" stroke="#000" stroke-width="1.3"/>
<line x1="456.8" y1="136.8" x2="458.2" y2="136.8" stroke="#000" stroke-width="1.3"/>
<line x1="458.2" y1="257.5" x2="458.2" y2="260.3" stroke="#000" stroke-width="1.3"/>
<line x1="517.9" y1="257.5" x2="517.9" y2="260.3" stroke="#000" stroke-width="1.3"/>
<line x1="577.5" y1="257.5" x2="577.5" y2="260.3" stroke="#000" stroke-width="1.3"/>
<line x1="637.2" y1="257.5" x2="637.2" y2="260.3" stroke="#000" stroke-width="1.3"/>
<line x1="488.0" y1="257.5" x2="488.0" y2="259" stroke="#000" stroke-width="1.3"/>
<line x1="547.7" y1="257.5" x2="547.7" y2="259" stroke="#000" stroke-width="1.3"/>
<line x1="607.3" y1="257.5" x2="607.3" y2="259" stroke="#000" stroke-width="1.3"/>
<text x="453.5" y="234.7" font-family="'Liberation Sans', sans-serif" font-size="11" font-weight="bold" text-anchor="end" textLength="29.4" lengthAdjust="spacingAndGlyphs">0,000</text>
<text x="453.5" y="196.9" font-family="'Liberation Sans', sans-serif" font-size="11" font-weight="bold" text-anchor="end" textLength="29.4" lengthAdjust="spacingAndGlyphs">0,005</text>
<text x="453.5" y="159.1" font-family="'Liberation Sans', sans-serif" font-size="11" font-weight="bold" text-anchor="end" textLength="29.4" lengthAdjust="spacingAndGlyphs">0,010</text>
<text x="453.5" y="121.3" font-family="'Liberation Sans', sans-serif" font-size="11" font-weight="bold" text-anchor="end" textLength="29.4" lengthAdjust="spacingAndGlyphs">0,015</text>
<text x="458.2" y="272" font-family="'Liberation Sans', sans-serif" font-size="11" font-weight="bold" text-anchor="middle">240</text>
<text x="517.9" y="272" font-family="'Liberation Sans', sans-serif" font-size="11" font-weight="bold" text-anchor="middle">260</text>
<text x="577.5" y="272" font-family="'Liberation Sans', sans-serif" font-size="11" font-weight="bold" text-anchor="middle">280</text>
<text x="637.2" y="272" font-family="'Liberation Sans', sans-serif" font-size="11" font-weight="bold" text-anchor="middle">300</text>
<text x="498.6" y="288.8" font-family="'Liberation Sans', sans-serif" font-size="12.6" font-weight="bold" textLength="97" lengthAdjust="spacingAndGlyphs">Wavelength [nm]</text>
<text transform="translate(420.3,219.6) rotate(-90)" font-family="'Liberation Sans', sans-serif" font-size="12" font-weight="bold" textLength="71.5" lengthAdjust="spacingAndGlyphs">Absorbance</text>
<text x="507.3" y="130.0" font-family="'Liberation Sans', sans-serif" font-size="16.3" fill="#00ff00" textLength="28.0" lengthAdjust="spacingAndGlyphs">IBU</text><text x="535.3" y="134.8" font-family="'Liberation Sans', sans-serif" font-size="11.2" font-style="italic" fill="#00ff00" textLength="23.0" lengthAdjust="spacingAndGlyphs">pure</text>
<text x="567.8" y="189.8" font-family="'Liberation Sans', sans-serif" font-size="16.3" fill="#0000ff" textLength="31.0" lengthAdjust="spacingAndGlyphs">ASA</text><text x="599.0" y="194.5" font-family="'Liberation Sans', sans-serif" font-size="11.2" font-style="italic" fill="#0000ff" textLength="24.0" lengthAdjust="spacingAndGlyphs">pure</text>
</svg>
</body></html>
